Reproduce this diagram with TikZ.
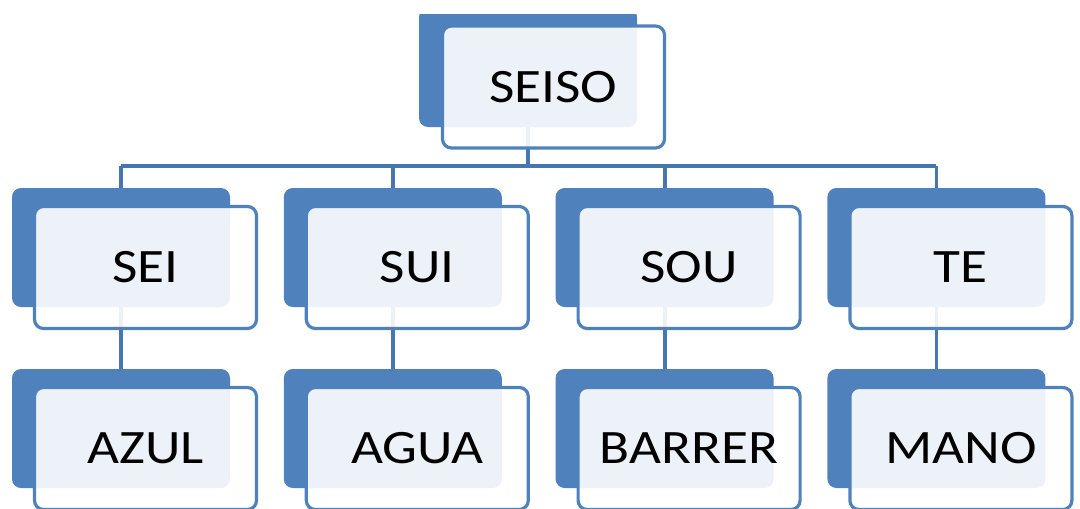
\documentclass[tikz,border=0pt]{standalone}
\usepackage{fontspec}
\setmainfont[FakeStretch=1.15]{Carlito}
\usetikzlibrary{backgrounds}

\definecolor{boxblue}{HTML}{4F81BD}
\definecolor{lineblue}{HTML}{4677B3}

\begin{document}
\begin{tikzpicture}[
    x=1pt,
    y=-1pt,
    line cap=round,
    line join=round,
    backbox/.style={
        fill=boxblue,
        rounded corners=9pt,
        minimum width=218pt,
        minimum height=119pt,
        inner sep=0pt
    },
    frontbox/.style={
        draw=boxblue,
        line width=3.2pt,
        fill=white,
        fill opacity=0.9,
        draw opacity=1,
        text opacity=1,
        rounded corners=9pt,
        minimum width=222pt,
        minimum height=122pt,
        inner sep=0pt,
        font=\fontsize{48}{52}\selectfont
    },
    link/.style={
        draw=lineblue,
        line width=3.8pt
    }
]

\useasboundingbox (0,0) rectangle (1080,509);
\clip (0,14) rectangle (1080,509);

% =================================================
% Caja superior
% =================================================

\node[backbox]  (seisoB) at (528,67.5) {};
\node[frontbox] (seisoF) at ([shift={(25.5,19.5)}]seisoB.center) {SEISO};

% =================================================
% Segunda fila
% =================================================

\node[backbox]  (seiB) at (121,247.5) {};
\node[frontbox] (seiF) at ([shift={(24.5,20)}]seiB.center) {SEI};

\node[backbox]  (suiB) at (392.8,247.5) {};
\node[frontbox] (suiF) at ([shift={(24.5,20)}]suiB.center) {SUI};

\node[backbox]  (souB) at (664.6,247.5) {};
\node[frontbox] (souF) at ([shift={(24.5,20)}]souB.center) {SOU};

\node[backbox]  (teB) at (936.4,247.5) {};
\node[frontbox] (teF) at ([shift={(24.5,20)}]teB.center) {TE};

% =================================================
% Tercera fila
% =================================================

\node[backbox]  (azulB) at (121,428.5) {};
\node[frontbox] (azulF) at ([shift={(24.5,20)}]azulB.center) {AZUL};

\node[backbox]  (aguaB) at (392.8,428.5) {};
\node[frontbox] (aguaF) at ([shift={(24.5,20)}]aguaB.center) {AGUA};

\node[backbox]  (barrerB) at (664.6,428.5) {};
\node[frontbox] (barrerF) at ([shift={(24.5,20)}]barrerB.center) {BARRER};

\node[backbox]  (manoB) at (936.4,428.5) {};
\node[frontbox] (manoF) at ([shift={(24.5,20)}]manoB.center) {MANO};

% =================================================
% Conectores (debajo de las cajas)
% =================================================

\coordinate (bus) at (528,166);

\begin{scope}[on background layer]
    % Barra horizontal
    \draw[link] (seisoB.center) -- (bus);
    \draw[link] (seiB.center |- bus) -- (teB.center |- bus);

    % Bajadas a la segunda fila
    \draw[link] (seiB.center |- bus) -- (seiB.center);
    \draw[link] (suiB.center |- bus) -- (suiB.center);
    \draw[link] (souB.center |- bus) -- (souB.center);
    \draw[link] (teB.center |- bus)  -- (teB.center);

    % Segunda fila a tercera fila
    \draw[link] (seiB.center) -- (azulB.center);
    \draw[link] (suiB.center) -- (aguaB.center);
    \draw[link] (souB.center) -- (barrerB.center);
    \draw[link] (teB.center)  -- (manoB.center);
\end{scope}

\end{tikzpicture}
\end{document}
